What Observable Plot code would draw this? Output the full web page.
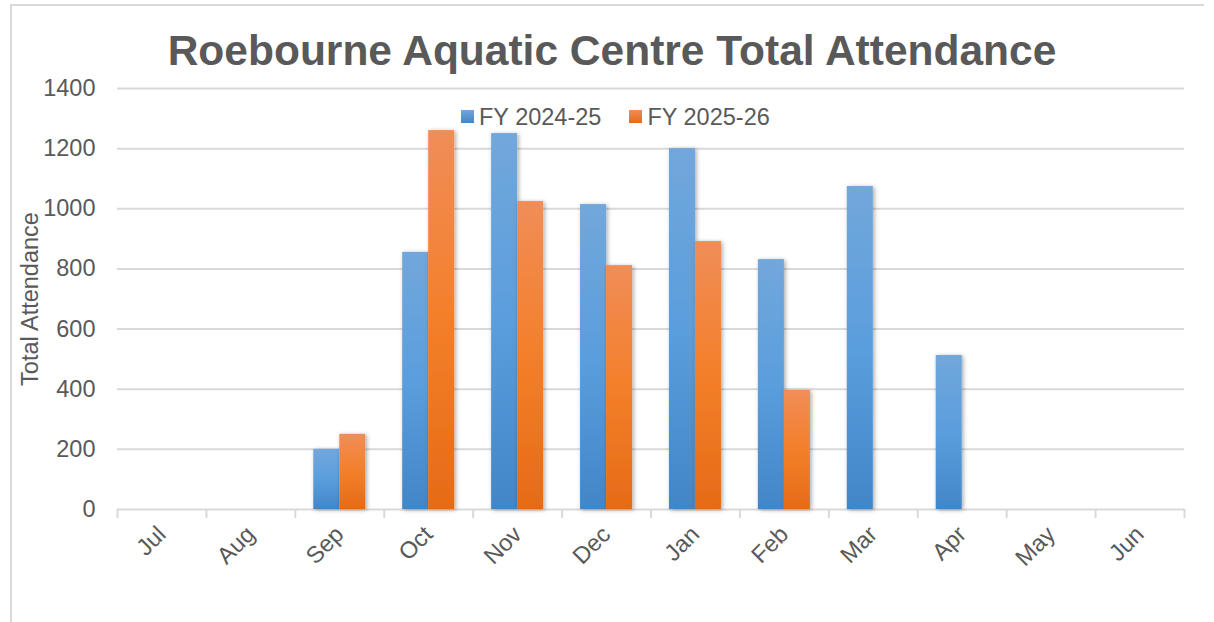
<!DOCTYPE html>
<html>
<head>
<meta charset="utf-8">
<script src="https://cdn.jsdelivr.net/npm/d3@7"></script>
<script src="https://cdn.jsdelivr.net/npm/@observablehq/plot@0.6"></script>
<style>
  html, body { margin: 0; padding: 0; background: #fff; }
  #wrap { position: relative; width: 1214px; height: 622px; overflow: hidden; font-family: "Liberation Sans", Arial, sans-serif; }
  #border { position: absolute; left: 10px; top: 4px; width: 1194px; height: 640px; border-top: 2px solid #d9d9d9; border-left: 2px solid #d9d9d9; box-sizing: border-box; }
  #title { position: absolute; left: 0; width: 1224px; top: 27px; text-align: center; font-size: 42.5px; font-weight: bold; color: #595959; line-height: 48px; white-space: nowrap; }
  #legend { position: absolute; left: 461px; top: 102px; font-size: 23.5px; color: #595959; white-space: nowrap; line-height: 26px; }
  #legend span.item { display: inline-flex; align-items: center; }
  #legend span.sw { display: inline-block; width: 13px; height: 13px; margin-right: 5px; }
  #chart { position: absolute; left: 0; top: 0; }
</style>
</head>
<body>
<div id="wrap">
  <div id="border"></div>
  <div id="chart"></div>
  <div id="title">Roebourne Aquatic Centre Total Attendance</div>
  <div id="legend"></div>
</div>
<script>
const months = ["Jul", "Aug", "Sep", "Oct", "Nov", "Dec", "Jan", "Feb", "Mar", "Apr", "May", "Jun"];
const seriesNames = ["FY 2024-25", "FY 2025-26"];
const fy2425 = [null, null, 200, 855, 1250, 1014, 1200, 831, 1074, 512, null, null];
const fy2526 = [null, null, 250, 1260, 1024, 811, 891, 396, null, null, null, null];
const yTicks = [0, 200, 400, 600, 800, 1000, 1200, 1400];

const W = 1214, H = 622;
const mL = 117, mR = 30, mT = 88, mB = 113;
const step = (W - mL - mR) / months.length;
const barW = 26;
const pin = 1 - barW / step;

const rows2425 = months.map((m, i) => ({month: m, value: fy2425[i]})).filter(d => d.value != null);
const rows2526 = months.map((m, i) => ({month: m, value: fy2526[i]})).filter(d => d.value != null);

const grey = "#595959";
const lineGrey = "#d9d9d9";

const svg = Plot.plot({
  width: W, height: H,
  marginLeft: mL, marginRight: mR, marginTop: mT, marginBottom: mB,
  style: {fontFamily: "'Liberation Sans', Arial, sans-serif", background: "transparent", overflow: "visible"},
  x: {domain: months, paddingInner: pin, paddingOuter: pin / 2, round: false},
  y: {domain: [0, 1400]},
  marks: [
    Plot.ruleY(yTicks, {stroke: lineGrey, strokeWidth: 2}),
    Plot.barY(rows2425, {x: "month", y: "value", fill: "url(#gradBlue)", dx: -barW / 2}),
    Plot.barY(rows2526, {x: "month", y: "value", fill: "url(#gradOrange)", dx: barW / 2}),
    Plot.axisY({ticks: yTicks, tickSize: 0, tickPadding: 22, fontSize: 23.5, color: grey, label: null, tickFormat: d3.format("d")}),
    Plot.axisX({tickSize: 9, tickFormat: () => "", dx: -step / 2, stroke: lineGrey, strokeWidth: 2, strokeOpacity: 1, label: null}),
    Plot.axisX({ticks: [months[months.length - 1]], tickSize: 9, tickFormat: () => "", dx: step / 2, stroke: lineGrey, strokeWidth: 2, strokeOpacity: 1, label: null}),
    Plot.axisX({tickSize: 0, tickRotate: -45, tickPadding: 10, fontSize: 23.5, color: grey, label: null, dx: 0, dy: 11}),
    Plot.text(["Total Attendance"], {frameAnchor: "left", rotate: -90, dx: -87, textAnchor: "middle", fontSize: 23.5, fill: grey, text: d => d})
  ]
});

// gradients and shadow
const ns = "http://www.w3.org/2000/svg";
const defs = document.createElementNS(ns, "defs");
defs.innerHTML = `
  <linearGradient id="gradBlue" x1="0" y1="0" x2="0" y2="1">
    <stop offset="0" stop-color="#72a7db"/>
    <stop offset="0.5" stop-color="#5a9edd"/>
    <stop offset="1" stop-color="#4286c7"/>
  </linearGradient>
  <linearGradient id="gradOrange" x1="0" y1="0" x2="0" y2="1">
    <stop offset="0" stop-color="#f08d58"/>
    <stop offset="0.5" stop-color="#f47f2a"/>
    <stop offset="1" stop-color="#e56b17"/>
  </linearGradient>
  <filter id="shadow" x="-30%" y="-5%" width="160%" height="115%">
    <feDropShadow dx="1.5" dy="1" stdDeviation="2.2" flood-color="#000" flood-opacity="0.35"/>
  </filter>`;
svg.insertBefore(defs, svg.firstChild);
svg.querySelectorAll('g[aria-label="bar"] rect').forEach(r => r.setAttribute("filter", "url(#shadow)"));

document.getElementById("chart").appendChild(svg);

// legend
const legend = document.getElementById("legend");
const swatchColors = ["linear-gradient(#72a7db, #4286c7)", "linear-gradient(#f08d58, #e56b17)"];
seriesNames.forEach((name, i) => {
  const item = document.createElement("span");
  item.className = "item";
  if (i > 0) item.style.marginLeft = "28px";
  const sw = document.createElement("span");
  sw.className = "sw";
  sw.style.background = swatchColors[i];
  item.appendChild(sw);
  item.appendChild(document.createTextNode(name));
  legend.appendChild(item);
});
</script>
</body>
</html>
